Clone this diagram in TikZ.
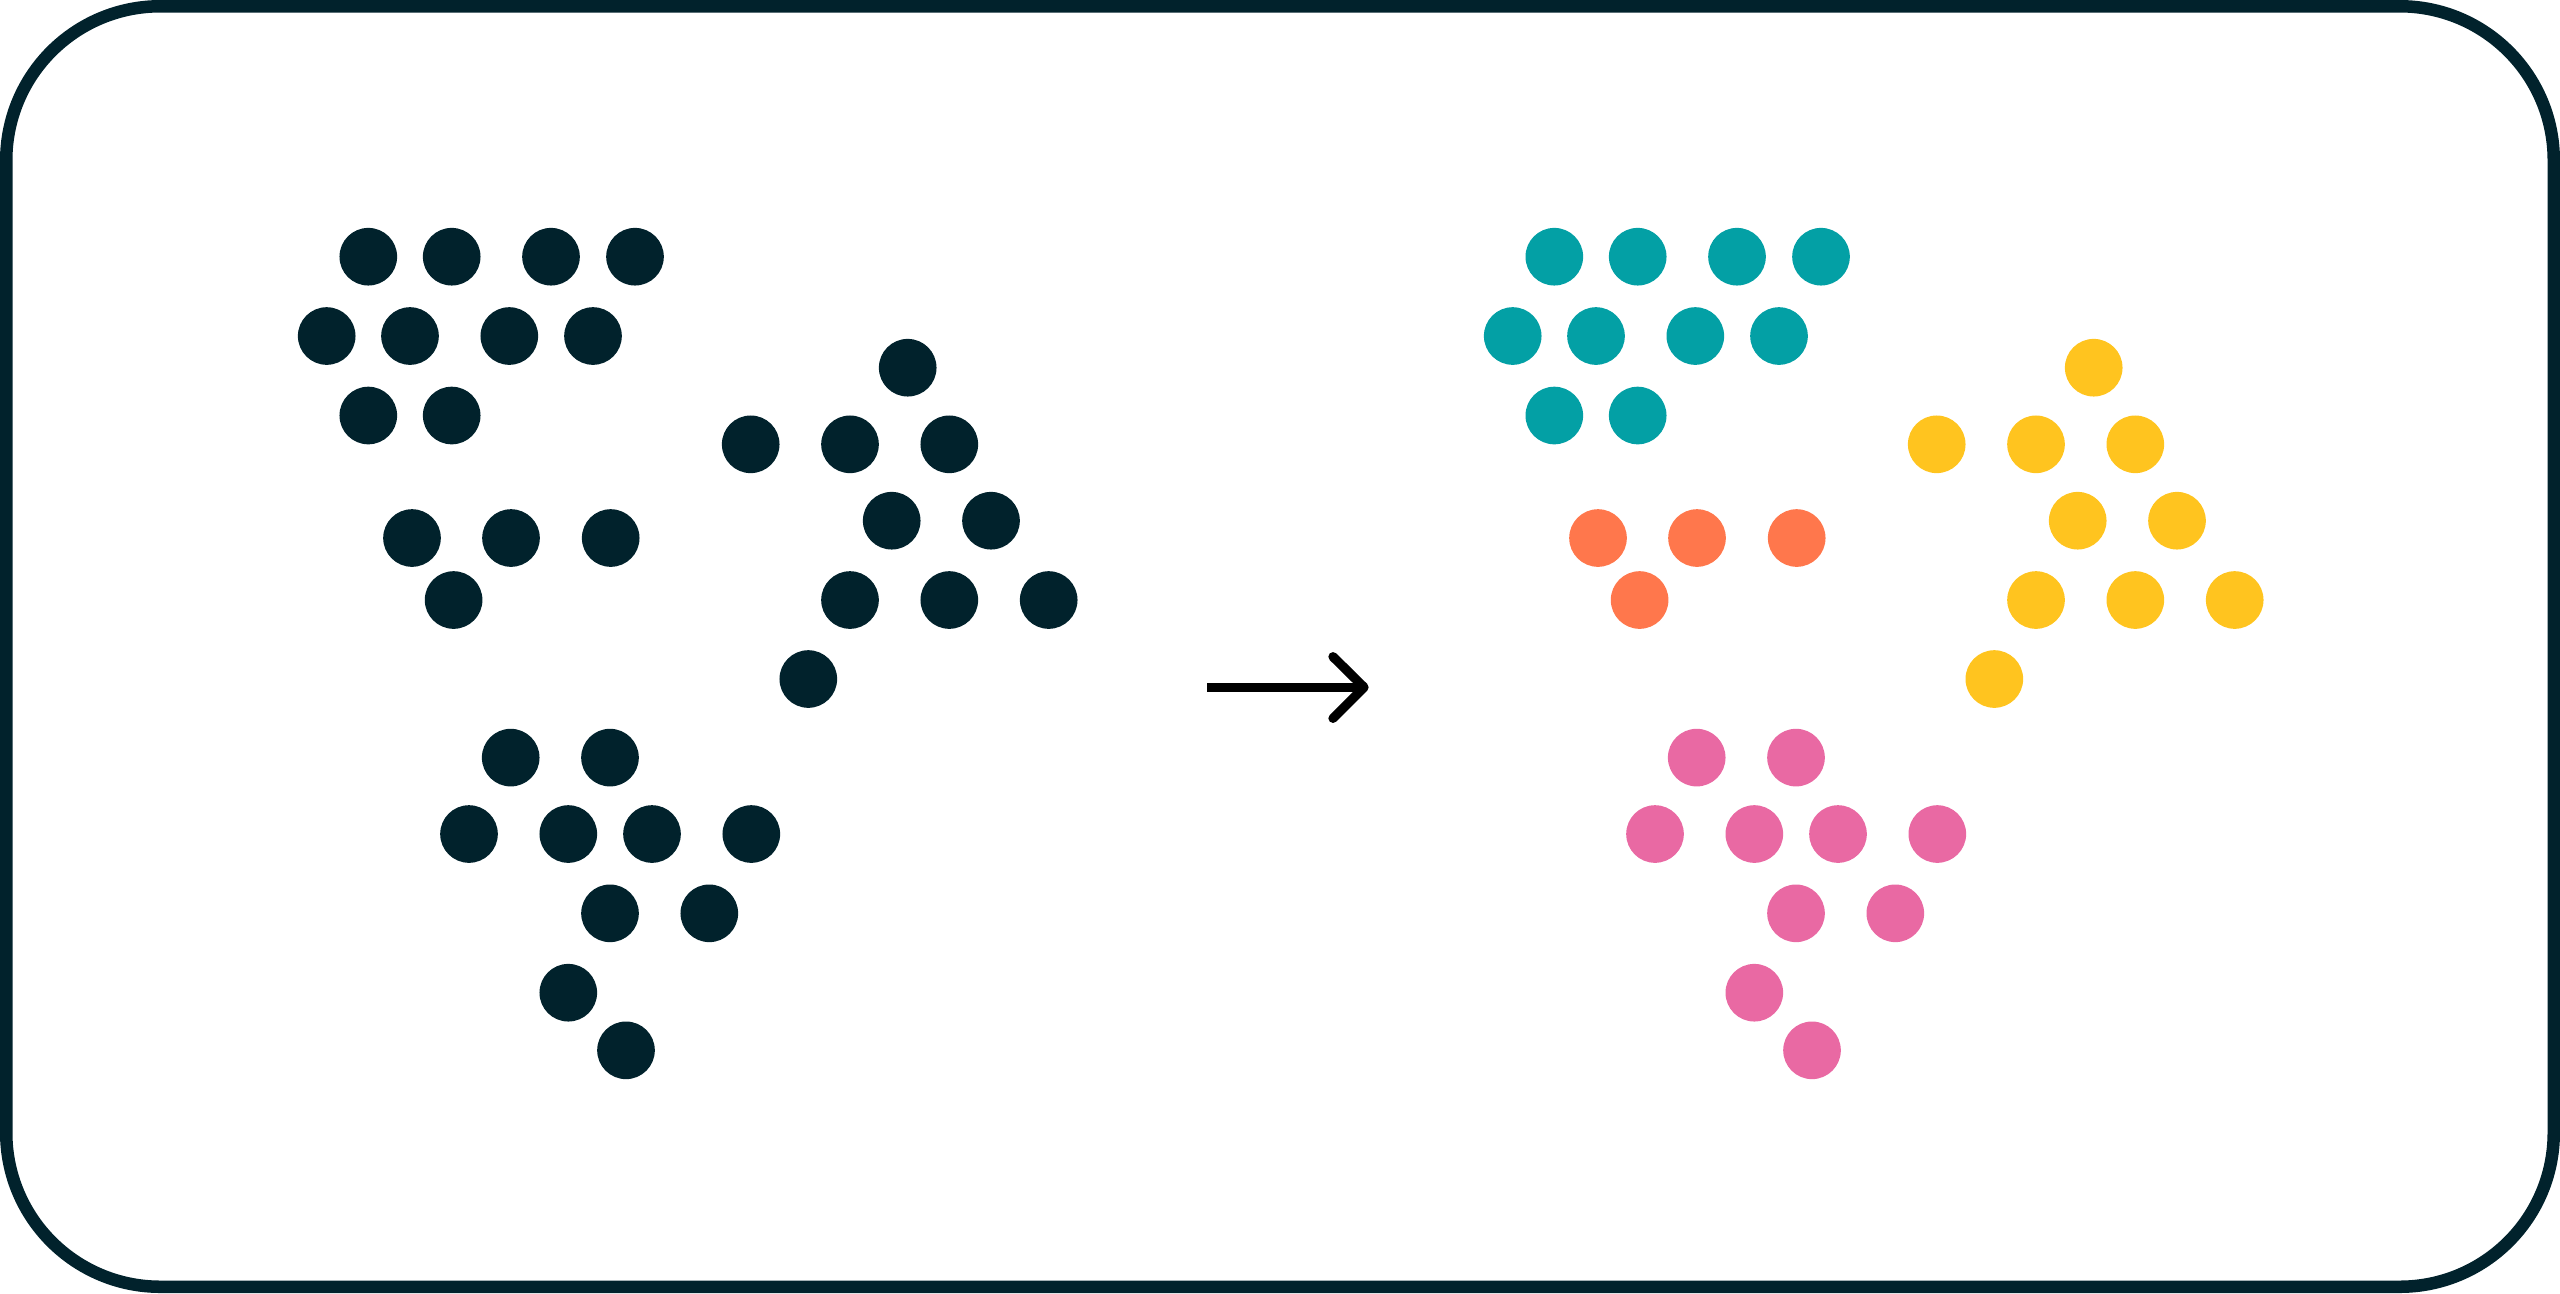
\documentclass[tikz,border=0pt]{standalone}
\usepackage{tikz}
\usetikzlibrary{positioning}
\definecolor{ink}{HTML}{01222C}
\definecolor{tealdot}{HTML}{03A0A5}
\definecolor{orangedot}{HTML}{FF774C}
\definecolor{yellowdot}{HTML}{FFC41F}
\definecolor{pinkdot}{HTML}{E969A3}
\tikzset{circ/.style = {fill, circle, inner sep = 0, minimum size = 0.576cm}}
\tikzset{frame/.style = {draw = ink, line width = 0.125cm, rounded corners = 1.54cm}}
\tikzset{arrowline/.style = {draw = black, line width = 0.093cm}}

\begin{document}
\begin{tikzpicture}[x = 0.01cm, y = -0.01cm]
      \useasboundingbox (0, 0) rectangle (2560, 1293);
      \draw [frame] (6.25, 6.25) rectangle (2553.75, 1286.75);
      \foreach \dx/\cola/\colb/\colc/\cold/\side in {0/ink/ink/ink/ink/l, 1186/tealdot/orangedot/yellowdot/pinkdot/r} {
        \foreach \x/\y [count = \i] in {368.3/256.7, 451.7/256.7, 551/256.7, 635/256.7,
            326.7/336, 410/336, 509.3/336, 593/336, 368.3/415.5, 451.7/415.5} {
          \node [circ, fill = \cola] (a\side\i) at (\x + \dx, \y) {};
        }
        \foreach \x/\y [count = \i] in {412/538, 511/538, 610.7/538, 453.6/600} {
          \node [circ, fill = \colb] (b\side\i) at (\x + \dx, \y) {};
        }
        \foreach \x/\y [count = \i] in {907.7/367.7, 750.7/444.3, 850/444.3, 949.3/444.3,
            891.7/520.7, 991/520.7, 850/600, 949.3/600, 1048.7/600, 808.3/679} {
          \node [circ, fill = \colc] (c\side\i) at (\x + \dx, \y) {};
        }
        \foreach \x/\y [count = \i] in {510.7/757.6, 610/757.6, 469/834, 568.3/834, 652/834, 751.3/834,
            610/913.3, 709.3/913.3, 568.3/992.7, 626/1050.3} {
          \node [circ, fill = \cold] (d\side\i) at (\x + \dx, \y) {};
        }
      }
      \coordinate (shaftstart) at (1207, 687.3);
      \coordinate (shafttip) at (1364, 687.3);
      \coordinate (barbup) at (1333, 656.7);
      \coordinate (barbdown) at (1333, 718.3);
      \draw [arrowline] (shaftstart) -- (shafttip);
      \draw [arrowline, line cap = round, line join = round] (barbup) -- (shafttip) -- (barbdown);
\end{tikzpicture}
\end{document}
